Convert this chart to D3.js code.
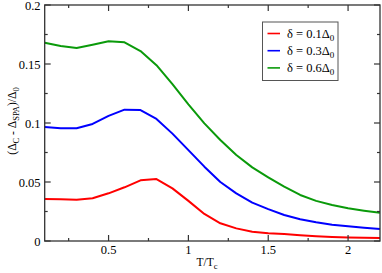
<!DOCTYPE html>
<html><head><meta charset="utf-8">
<script src="https://cdn.jsdelivr.net/npm/d3@7"></script>
<style>body{margin:0;background:#fff}svg{display:block}</style>
</head><body><svg id="c" width="382" height="273" font-family="Liberation Serif"></svg>
<script>
const xs = [0.1,0.2,0.3,0.4,0.5,0.6,0.7,0.8,0.9,1.0,1.1,1.2,1.3,1.4,1.5,1.6,1.7,1.8,1.9,2.0,2.1,2.2];
const red = [0.0356,0.0353,0.035,0.0362,0.0404,0.0455,0.0514,0.0525,0.0446,0.034,0.0229,0.015,0.0107,0.0079,0.0065,0.0059,0.0048,0.004,0.0034,0.003,0.0027,0.0025];
const blue = [0.0966,0.0955,0.0955,0.0992,0.106,0.1113,0.111,0.1034,0.091,0.077,0.063,0.050,0.0404,0.0325,0.027,0.022,0.0184,0.0158,0.0138,0.0124,0.0113,0.0102];
const green = [0.168,0.1653,0.1636,0.1664,0.1692,0.1684,0.161,0.149,0.133,0.1158,0.0997,0.0856,0.0729,0.0624,0.054,0.046,0.039,0.034,0.0305,0.0277,0.0257,0.024];
const seriesNames = ["0.1","0.3","0.6"];
const seriesColors = ["#ff0000","#0000ff","#0a9a0a"];
const xMajor = [0.5,1,1.5,2];
const xMinor = [0.25,0.75,1.25,1.75];
const xTickLabels = ["0.5","1","1.5","2"];
const yMajor = [0,0.05,0.1,0.15,0.2];
const yMinor = [0.025,0.075,0.125,0.175];
const yTickLabels = ["0","0.05","0.1","0.15","0.2"];

const svg = d3.select("#c");
const L=44.7,R=380,T=5,B=241;
const x = d3.scaleLinear().domain([0.1,2.2]).range([L,R]);
const y = d3.scaleLinear().domain([0,0.2]).range([B,T]);
const axisCol="#333";

const series=[red,blue,green];
const line=d3.line().x((d,i)=>x(xs[i])).y(d=>y(d));
series.forEach((s,k)=>{
  svg.append("path").datum(s).attr("d",line).attr("fill","none")
    .attr("stroke",seriesColors[k]).attr("stroke-width",2).attr("stroke-linejoin","round");
});

// frame
svg.append("rect").attr("x",L).attr("y",T).attr("width",R-L).attr("height",B-T)
  .attr("fill","none").attr("stroke",axisCol).attr("stroke-width",1.3);

const g=svg.append("g").attr("stroke",axisCol).attr("stroke-width",1.2);
xMajor.forEach(v=>{g.append("line").attr("x1",x(v)).attr("x2",x(v)).attr("y1",B).attr("y2",B-6);
  g.append("line").attr("x1",x(v)).attr("x2",x(v)).attr("y1",T).attr("y2",T+6);});
xMinor.forEach(v=>{g.append("line").attr("x1",x(v)).attr("x2",x(v)).attr("y1",B).attr("y2",B-3);
  g.append("line").attr("x1",x(v)).attr("x2",x(v)).attr("y1",T).attr("y2",T+3);});
yMajor.forEach(v=>{g.append("line").attr("y1",y(v)).attr("y2",y(v)).attr("x1",L).attr("x2",L+6);
  g.append("line").attr("y1",y(v)).attr("y2",y(v)).attr("x1",R).attr("x2",R-6);});
yMinor.forEach(v=>{g.append("line").attr("y1",y(v)).attr("y2",y(v)).attr("x1",L).attr("x2",L+3);
  g.append("line").attr("y1",y(v)).attr("y2",y(v)).attr("x1",R).attr("x2",R-3);});

xMajor.forEach((v,i)=>svg.append("text").attr("x",x(v)).attr("y",254).attr("text-anchor","middle")
  .attr("font-size","12.5px").text(xTickLabels[i]));
yMajor.forEach((v,i)=>svg.append("text").attr("x",40.5).attr("y",y(v)+4.8).attr("text-anchor","end")
  .attr("font-size","12.5px").text(yTickLabels[i]));

// x title
const xt=svg.append("text").attr("x",207).attr("y",265.5).attr("text-anchor","middle").attr("font-size","11.5px");
xt.append("tspan").text("T/T");
xt.append("tspan").attr("dy",3).attr("font-size","8.5px").text("c");

// y title
const yt=svg.append("text").attr("transform","translate(16,121) rotate(-90)").attr("text-anchor","middle").attr("font-size","11.5px");
yt.append("tspan").text("(Δ");
yt.append("tspan").attr("dy",3).attr("font-size","8.5px").text("C");
yt.append("tspan").attr("dy",-3).text(" - Δ");
yt.append("tspan").attr("dy",3).attr("font-size","8.5px").text("SPA");
yt.append("tspan").attr("dy",-3).text(")/Δ");
yt.append("tspan").attr("dy",3).attr("font-size","8.5px").text("0");

// legend
svg.append("rect").attr("x",262.5).attr("y",22).attr("width",75.5).attr("height",58.5)
  .attr("fill","#fff").attr("stroke","#555").attr("stroke-width",1);
seriesNames.forEach((n,k)=>{
  const yy=33.5+k*17.2;
  svg.append("line").attr("x1",267.5).attr("x2",280).attr("y1",yy).attr("y2",yy)
    .attr("stroke",seriesColors[k]).attr("stroke-width",1.6);
  const t=svg.append("text").attr("x",287).attr("y",yy+4.3).attr("font-size","12.5px");
  t.append("tspan").text("δ = "+n+"Δ");
  t.append("tspan").attr("dy",3).attr("font-size","9px").text("0");
});
</script></body></html>
